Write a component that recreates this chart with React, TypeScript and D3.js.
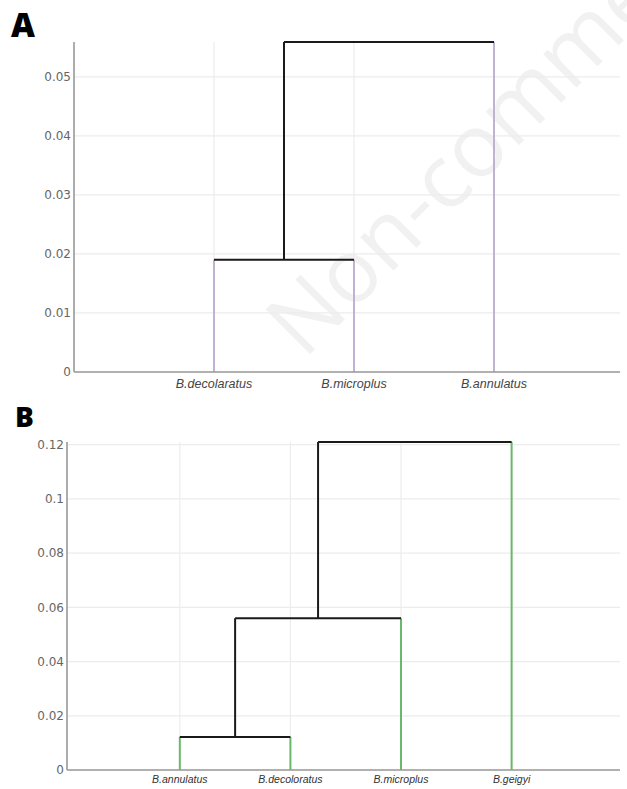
import React from "react";
import * as d3 from "d3";

const W = 627;
const H = 789;

// Panel A data
const leavesA = ["B.decolaratus", "B.microplus", "B.annulatus"];
const leafPosA = [5, 15, 25];
// merges: [childA, childB, height]; index >= leaves.length refers to earlier merge
const mergesA: [number, number, number][] = [
  [0, 1, 0.019],
  [3, 2, 0.0559],
];
const ticksA = [0, 0.01, 0.02, 0.03, 0.04, 0.05];

// Panel B data
const leavesB = ["B.annulatus", "B.decoloratus", "B.microplus", "B.geigyi"];
const leafPosB = [5, 15, 25, 35];
const mergesB: [number, number, number][] = [
  [0, 1, 0.0122],
  [4, 2, 0.056],
  [5, 3, 0.121],
];
const ticksB = [0, 0.02, 0.04, 0.06, 0.08, 0.1, 0.12];

const watermark = "Non-comme";

type PanelProps = {
  leaves: string[];
  leafPos: number[];
  merges: [number, number, number][];
  ticks: number[];
  xDomain: [number, number];
  xRange: [number, number];
  yMax: number;
  yRange: [number, number];
  legColor: string;
  legWidth: number;
  linkWidth: number;
  labelSize: number;
  labelDy: number;
  labelColor: string;
  tickSize: number;
};

function Dendro(p: PanelProps) {
  const x = d3.scaleLinear().domain(p.xDomain).range(p.xRange);
  const y = d3.scaleLinear().domain([0, p.yMax]).range(p.yRange);
  const n = p.leaves.length;
  const pos: number[] = [...p.leafPos];
  const hts: number[] = p.leaves.map(() => 0);
  const links: React.ReactNode[] = [];
  const legs: React.ReactNode[] = [];
  p.merges.forEach(([a, b, h], i) => {
    const xa = pos[a], xb = pos[b];
    [[a, xa], [b, xb]].forEach(([c, xc], k) => {
      const line = (
        <line
          key={`v${i}-${k}`}
          x1={x(xc)}
          x2={x(xc)}
          y1={y(hts[c])}
          y2={y(h)}
          stroke={c < n ? p.legColor : "#1a1a1a"}
          strokeWidth={c < n ? p.legWidth : p.linkWidth}
        />
      );
      if (c < n) legs.push(line);
      else links.push(line);
    });
    links.push(
      <line
        key={`h${i}`}
        x1={x(xa)}
        x2={x(xb)}
        y1={y(h)}
        y2={y(h)}
        stroke="#1a1a1a"
        strokeWidth={p.linkWidth}
      />
    );
    pos[n + i] = (xa + xb) / 2;
    hts[n + i] = h;
  });
  const fmt = (v: number) => String(+v.toFixed(2));
  return (
    <g>
      {p.ticks.map((t) => (
        <line key={`gy${t}`} x1={p.xRange[0]} x2={p.xRange[1]} y1={y(t)} y2={y(t)} stroke="#ececec" strokeWidth={1.2} />
      ))}
      {p.leafPos.map((lp, i) => (
        <line key={`gx${i}`} x1={x(lp)} x2={x(lp)} y1={p.yRange[0]} y2={p.yRange[1]} stroke="#ececec" strokeWidth={1.2} />
      ))}
      {legs}
      {links}
      <line x1={p.xRange[0]} x2={p.xRange[0]} y1={p.yRange[0]} y2={p.yRange[1]} stroke="#999" strokeWidth={1.6} />
      <line x1={p.xRange[0]} x2={p.xRange[1]} y1={p.yRange[0]} y2={p.yRange[0]} stroke="#999" strokeWidth={1.6} />
      {p.ticks.map((t) => (
        <text
          key={`t${t}`}
          x={p.xRange[0] - 3}
          y={y(t)}
          dy="0.35em"
          textAnchor="end"
          fontFamily="DejaVu Sans, sans-serif"
          fontSize={p.tickSize}
          fill="#666"
        >
          {fmt(t)}
        </text>
      ))}
      {p.leaves.map((l, i) => (
        <text
          key={`l${i}`}
          x={x(p.leafPos[i])}
          y={p.yRange[0] + p.labelDy}
          textAnchor="middle"
          fontFamily="Liberation Sans, Arial, sans-serif"
          fontStyle="italic"
          fontSize={p.labelSize}
          fill={p.labelColor}
        >
          {l}
        </text>
      ))}
    </g>
  );
}

export default function App() {
  return (
    <svg
      width={W}
      height={H}
      viewBox={`0 0 ${W} ${H}`}
      style={{ position: "absolute", left: 0, top: 0, background: "#fff" }}
    >
      <rect width={W} height={H} fill="#fff" />
      <text
        x={304}
        y={360}
        transform="rotate(-45 304 360)"
        fontFamily="Open Sans, sans-serif"
        fontWeight={400}
        fontSize={88}
        fill="#f1f1f1"
      >
        {watermark}
      </text>
      <Dendro
        leaves={leavesA}
        leafPos={leafPosA}
        merges={mergesA}
        ticks={ticksA}
        xDomain={[-5, 34]}
        xRange={[74, 620]}
        yMax={0.0559}
        yRange={[372, 42]}
        legColor="#b4a2cc"
        legWidth={1.6}
        linkWidth={2}
        labelSize={12.5}
        labelDy={16}
        labelColor="#444"
        tickSize={12}
      />
      <Dendro
        leaves={leavesB}
        leafPos={leafPosB}
        merges={mergesB}
        ticks={ticksB}
        xDomain={[-5.2, 44.8]}
        xRange={[67, 620]}
        yMax={0.121}
        yRange={[770, 442]}
        legColor="#6ab86a"
        legWidth={2}
        linkWidth={2}
        labelSize={10.5}
        labelDy={13}
        labelColor="#333"
        tickSize={12}
      />
      <text x={11} y={37} fontFamily="Open Sans, DejaVu Sans, sans-serif" fontWeight={800} fontSize={33} fill="#000">
        A
      </text>
      <text x={15} y={427} fontFamily="Open Sans, DejaVu Sans, sans-serif" fontWeight={800} fontSize={28} fill="#000">
        B
      </text>
    </svg>
  );
}
